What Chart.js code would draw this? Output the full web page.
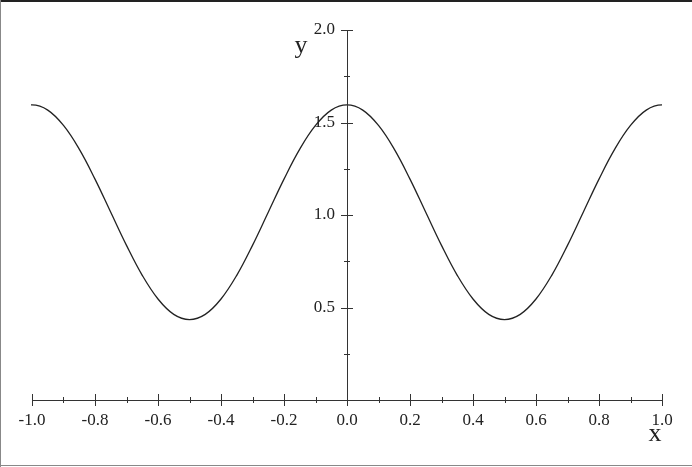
<!DOCTYPE html>
<html><head><meta charset="utf-8">
<script src="https://cdn.jsdelivr.net/npm/chart.js@4"></script>
<style>html,body{margin:0;padding:0;background:#fff;}#wrap{width:692px;height:467px;position:relative;}</style>
</head><body><div id="wrap"><canvas id="c" width="692" height="467"></canvas></div>
<script>
const xValues = [-1.05,-1.00,-0.95,-0.90,-0.85,-0.80,-0.75,-0.70,-0.65,-0.60,-0.55,-0.50,-0.45,-0.40,-0.35,-0.30,-0.25,-0.20,-0.15,-0.10,-0.05,0.00,0.05,0.10,0.15,0.20,0.25,0.30,0.35,0.40,0.45,0.50,0.55,0.60,0.65,0.70,0.75,0.80,0.85,0.90,0.95,1.00,1.05];
const yValues = [1.567,1.595,1.567,1.484,1.356,1.194,1.015,0.836,0.674,0.546,0.463,0.435,0.463,0.546,0.674,0.836,1.015,1.194,1.356,1.484,1.567,1.595,1.567,1.484,1.356,1.194,1.015,0.836,0.674,0.546,0.463,0.435,0.463,0.546,0.674,0.836,1.015,1.194,1.356,1.484,1.567,1.595,1.567];
const xMajorTicks = [-1.0,-0.8,-0.6,-0.4,-0.2,0.0,0.2,0.4,0.6,0.8,1.0];
const xMinorTicks = [-0.9,-0.7,-0.5,-0.3,-0.1,0.1,0.3,0.5,0.7,0.9];
const yMajorTicks = [0.5,1.0,1.5,2.0];
const yMinorTicks = [0.25,0.75,1.25,1.75];
const xLabels = ["-1.0","-0.8","-0.6","-0.4","-0.2","0.0","0.2","0.4","0.6","0.8","1.0"];
const yLabels = ["0.5","1.0","1.5","2.0"];

const FONT = '"Liberation Serif","DejaVu Serif",serif';
const AX = '#333';

const axesPlugin = {
  id:'axesPlugin',
  afterDraw(chart){
    const ctx = chart.ctx, xs = chart.scales.x, ys = chart.scales.y;
    const x0 = xs.getPixelForValue(0), y0 = ys.getPixelForValue(0);
    ctx.save();
    ctx.fillStyle='#222'; ctx.fillRect(0,0,692,2);
    ctx.fillStyle='#888'; ctx.fillRect(0,0,1,467); ctx.fillRect(0,465,692,1);
    ctx.strokeStyle=AX; ctx.lineWidth=1;
    ctx.beginPath();
    ctx.moveTo(xs.getPixelForValue(-1), Math.round(y0)+0.5);
    ctx.lineTo(xs.getPixelForValue(1), Math.round(y0)+0.5);
    ctx.moveTo(Math.round(x0)+0.5, ys.getPixelForValue(0));
    ctx.lineTo(Math.round(x0)+0.5, ys.getPixelForValue(2));
    ctx.stroke();
    ctx.beginPath();
    xMajorTicks.forEach(v=>{const p=Math.round(xs.getPixelForValue(v))+0.5; ctx.moveTo(p,y0-6); ctx.lineTo(p,y0+6);});
    xMinorTicks.forEach(v=>{const p=Math.round(xs.getPixelForValue(v))+0.5; ctx.moveTo(p,y0-3); ctx.lineTo(p,y0+3);});
    yMajorTicks.forEach(v=>{const p=Math.round(ys.getPixelForValue(v))+0.5; ctx.moveTo(x0-6,p); ctx.lineTo(x0+6,p);});
    yMinorTicks.forEach(v=>{const p=Math.round(ys.getPixelForValue(v))+0.5; ctx.moveTo(x0-3,p); ctx.lineTo(x0+3,p);});
    ctx.stroke();
    ctx.fillStyle='#222';
    ctx.font='17px '+FONT;
    ctx.textAlign='center'; ctx.textBaseline='middle';
    xMajorTicks.forEach((v,i)=>{ctx.fillText(xLabels[i], xs.getPixelForValue(v), y0+21);});
    ctx.textAlign='right';
    yMajorTicks.forEach((v,i)=>{ctx.fillText(yLabels[i], x0-12, ys.getPixelForValue(v));});
    ctx.font='26px '+FONT;
    ctx.textAlign='center';
    ctx.fillText('y', 301, 46);
    ctx.fillText('x', 655, 434);
    ctx.restore();
  }
};

const data = xValues.map((x,i)=>({x:x, y:yValues[i]}));
new Chart(document.getElementById('c'), {
  type:'line',
  data:{datasets:[{data:data, borderColor:'#222', borderWidth:1.3, pointRadius:0, tension:0.4, fill:false, clip:1}]},
  options:{
    responsive:false, animation:false, devicePixelRatio:1,
    layout:{padding:{left:32,right:30,top:30,bottom:67}},
    plugins:{legend:{display:false}, tooltip:{enabled:false}},
    scales:{
      x:{type:'linear', min:-1, max:1, display:false},
      y:{type:'linear', min:0, max:2, display:false}
    }
  },
  plugins:[axesPlugin]
});
</script></body></html>
